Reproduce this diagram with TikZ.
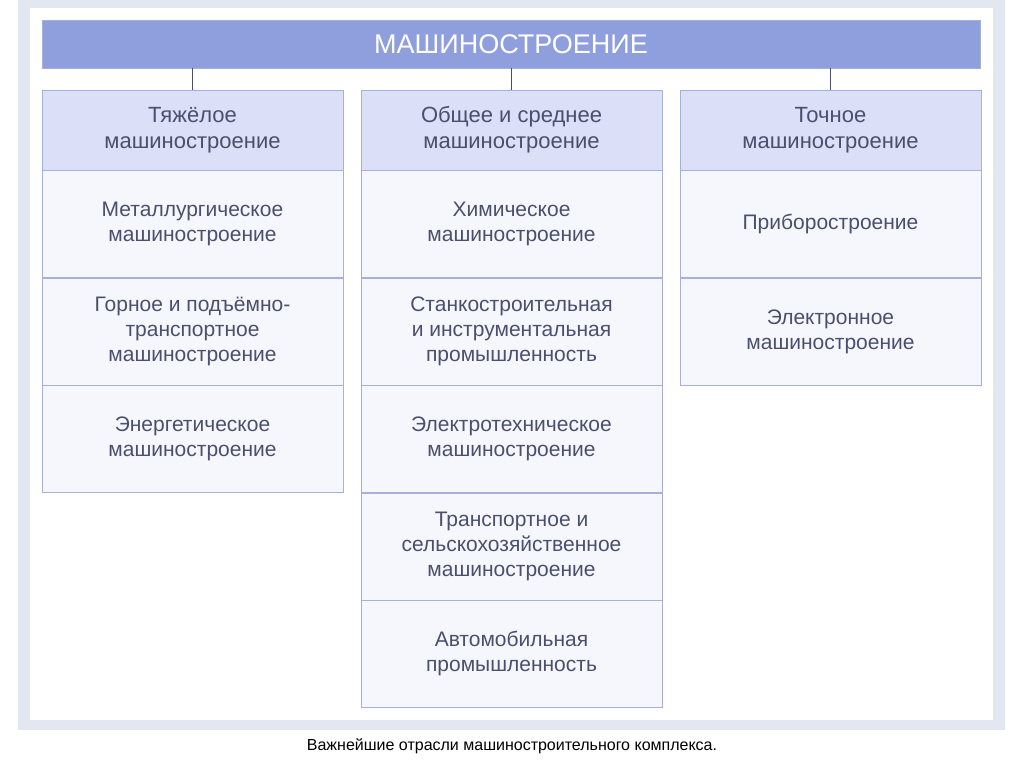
\documentclass[tikz,border=0pt]{standalone}
\usepackage{fontspec}
\setmainfont{Liberation Sans}
\usetikzlibrary{positioning}
\definecolor{titlefill}{HTML}{8F9FDD}
\definecolor{headfill}{HTML}{DCDFF8}
\definecolor{cellfill}{HTML}{F6F7FC}
\definecolor{boxline}{HTML}{A7B0D8}
\definecolor{inktext}{HTML}{4A4F6E}
\definecolor{framefill}{HTML}{E3E7F1}
\tikzset{
  titlebar/.style={
    rectangle, draw=boxline, fill=titlefill, text=white,
    minimum width=938pt, minimum height=48pt, font=\fontsize{27}{30}\selectfont
  },
  headbox/.style={
    rectangle, draw=boxline, fill=headfill, text=inktext, align=center,
    minimum width=301pt, minimum height=80pt, inner sep=0pt,
    font=\fontsize{22}{26}\selectfont, anchor=north
  },
  cellbox/.style={
    rectangle, draw=boxline, fill=cellfill, text=inktext, align=center,
    minimum width=301pt, minimum height=107pt, inner sep=0pt,
    font=\fontsize{21}{25}\selectfont, below=0pt of #1
  },
  link/.style={draw=inktext, line width=1.5pt}
}
\begin{document}
\begin{tikzpicture}[x=1pt,y=-1pt]
  \useasboundingbox (0,0) rectangle (1024,767);
  \fill[framefill] (18,0) rectangle (1005,730);
  \fill[white] (30,8) rectangle (993,720);

  \node[titlebar] (title) at (511,44) {МАШИНОСТРОЕНИЕ};

  % heavy
  \node[headbox] (heavy) at (192.5,90) {Тяжёлое\\машиностроение};
  \node[cellbox=heavy] (h1) {Металлургическое\\машиностроение};
  \node[cellbox=h1] (h2) {Горное и подъёмно-\\транспортное\\машиностроение};
  \node[cellbox=h2] (h3) {Энергетическое\\машиностроение};

  % general
  \node[headbox] (general) at (511.5,90) {Общее и среднее\\машиностроение};
  \node[cellbox=general] (g1) {Химическое\\машиностроение};
  \node[cellbox=g1] (g2) {Станкостроительная\\и инструментальная\\промышленность};
  \node[cellbox=g2] (g3) {Электротехническое\\машиностроение};
  \node[cellbox=g3] (g4) {Транспортное и\\сельскохозяйственное\\машиностроение};
  \node[cellbox=g4] (g5) {Автомобильная\\промышленность};

  % precise
  \node[headbox] (precise) at (830.5,90) {Точное\\машиностроение};
  \node[cellbox=precise] (p1) {Приборостроение};
  \node[cellbox=p1] (p2) {Электронное\\машиностроение};

  \draw[link] (heavy.north) -- (heavy.north |- title.south);
  \draw[link] (general.north) -- (general.north |- title.south);
  \draw[link] (precise.north) -- (precise.north |- title.south);

  \node[font=\fontsize{16}{18}\selectfont] (caption) at (512,746)
    {Важнейшие отрасли машиностроительного комплекса.};
\end{tikzpicture}
\end{document}
